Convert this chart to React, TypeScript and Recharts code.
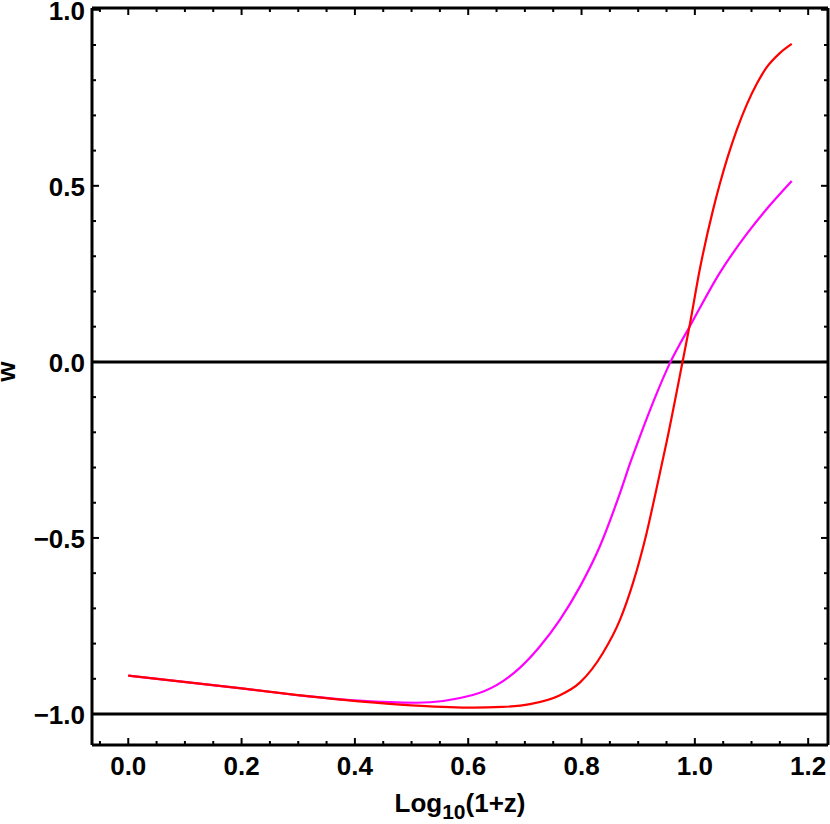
import React from 'react';
import { LineChart, Line, XAxis, YAxis, ReferenceLine, Label } from 'recharts';

// curves: log10(1+z) positions and w values
const redLogZ = [0, 0.204, 0.303, 0.407, 0.508, 0.608, 0.66, 0.709, 0.76, 0.797, 0.838, 0.868, 0.891, 0.915, 0.933, 0.951, 0.979, 0.991, 1.009, 1.032, 1.044, 1.058, 1.074, 1.092, 1.11, 1.127, 1.15, 1.171];
const redW = [-0.891, -0.928, -0.947, -0.964, -0.976, -0.982, -0.98, -0.972, -0.948, -0.911, -0.826, -0.732, -0.627, -0.485, -0.355, -0.221, 0.006, 0.105, 0.265, 0.431, 0.505, 0.582, 0.659, 0.732, 0.792, 0.837, 0.877, 0.903];

const magentaLogZ = [0, 0.204, 0.303, 0.407, 0.508, 0.608, 0.65, 0.691, 0.726, 0.762, 0.797, 0.832, 0.868, 0.887, 0.9, 0.93, 0.957, 0.974, 0.988, 1.044, 1.092, 1.132, 1.171];
const magentaW = [-0.891, -0.928, -0.947, -0.962, -0.968, -0.946, -0.918, -0.869, -0.809, -0.732, -0.639, -0.525, -0.372, -0.282, -0.225, -0.1, 0, 0.052, 0.092, 0.253, 0.364, 0.444, 0.514];

const xTicks = [-0.05, 0, 0.05, 0.1, 0.15, 0.2, 0.25, 0.3, 0.35, 0.4, 0.45, 0.5, 0.55, 0.6, 0.65, 0.7, 0.75, 0.8, 0.85, 0.9, 0.95, 1.0, 1.05, 1.1, 1.15, 1.2];
const xMajor = [0, 0.2, 0.4, 0.6, 0.8, 1.0, 1.2];
const yTicks = [-1.0, -0.9, -0.8, -0.7, -0.6, -0.5, -0.4, -0.3, -0.2, -0.1, 0, 0.1, 0.2, 0.3, 0.4, 0.5, 0.6, 0.7, 0.8, 0.9, 1.0];
const yMajor = [-1.0, -0.5, 0, 0.5, 1.0];
const refLevels = [0, -1];

const redData = redLogZ.map((x, i) => ({ x, w: redW[i] }));
const magentaData = magentaLogZ.map((x, i) => ({ x, w: magentaW[i] }));

const W = 830;
const H = 824;
const MARGIN = { top: 7, right: 1, bottom: 0, left: 0 };
const PLOT_TOP = MARGIN.top + 1;
const PLOT_RIGHT = W - MARGIN.right - 1;
const X_DOMAIN = [-0.064, 1.235];
const Y_DOMAIN = [-1.088, 1.005];
const FONT = '"Liberation Sans", Arial, sans-serif';
const isMajor = (list: number[], v: number) => list.some((t) => Math.abs(t - v) < 1e-6);
const fmt = (v: number) => (v < 0 ? '\u2212' + Math.abs(v).toFixed(1) : v.toFixed(1));

// bottom ticks, mirrored onto the top frame edge
const BottomTick = (props: any) => {
  const { x, y, payload } = props;
  const major = isMajor(xMajor, payload.value);
  const len = major ? 7 : 4;
  return (
    <g>
      <line x1={x} x2={x} y1={y} y2={y - len} stroke="#000" strokeWidth={2} />
      <line x1={x} x2={x} y1={PLOT_TOP} y2={PLOT_TOP + len} stroke="#000" strokeWidth={2} />
      {major && (
        <text x={x} y={y + 30} textAnchor="middle" fontFamily={FONT} fontWeight="bold" fontSize={26} fill="#000">
          {fmt(payload.value)}
        </text>
      )}
    </g>
  );
};

// left ticks, mirrored onto the right frame edge
const LeftTick = (props: any) => {
  const { x, y, payload } = props;
  const major = isMajor(yMajor, payload.value);
  const len = major ? 7 : 4;
  return (
    <g>
      <line x1={x} x2={x + len} y1={y} y2={y} stroke="#000" strokeWidth={2} />
      <line x1={PLOT_RIGHT} x2={PLOT_RIGHT - len} y1={y} y2={y} stroke="#000" strokeWidth={2} />
      {major && (
        <text x={x - 7} y={y + 10} textAnchor="end" fontFamily={FONT} fontWeight="bold" fontSize={26} fill="#000">
          {fmt(payload.value)}
        </text>
      )}
    </g>
  );
};

const XTitle = (props: any) => {
  const vb = props.viewBox || {};
  return (
    <text x={vb.x + vb.width / 2} y={vb.y + 67} textAnchor="middle" fontFamily={FONT} fontWeight="bold" fontSize={26} fill="#000">
      Log
      <tspan fontSize={21} dy={7}>10</tspan>
      <tspan dy={-7}>(1+z)</tspan>
    </text>
  );
};

const YTitle = (props: any) => {
  const vb = props.viewBox || {};
  const cy = vb.y + vb.height / 2 - 5;
  return (
    <text x={15} y={cy} transform={`rotate(-90, 15, ${cy})`} textAnchor="middle" fontFamily={FONT} fontWeight="bold" fontSize={26} fill="#000">
      w
    </text>
  );
};

const frame = { stroke: '#000', strokeWidth: 3 };

export default function App() {
  return (
    <div style={{ position: 'absolute', left: 0, top: 0, width: W, height: H, background: '#fff' }}>
      <LineChart width={W} height={H} margin={MARGIN}>
        <XAxis
          xAxisId="top"
          orientation="top"
          dataKey="x"
          type="number"
          domain={X_DOMAIN}
          allowDataOverflow
          tick={false}
          tickLine={false}
          height={1}
          axisLine={frame}
        />
        <YAxis
          yAxisId="right"
          orientation="right"
          type="number"
          domain={Y_DOMAIN}
          allowDataOverflow
          tick={false}
          tickLine={false}
          width={1}
          axisLine={frame}
        />
        <XAxis
          xAxisId="bottom"
          dataKey="x"
          type="number"
          domain={X_DOMAIN}
          allowDataOverflow
          ticks={xTicks}
          interval={0}
          tickSize={0}
          tickMargin={0}
          tickLine={false}
          tick={<BottomTick />}
          height={79}
          axisLine={frame}
        >
          <Label content={<XTitle />} />
        </XAxis>
        <YAxis
          yAxisId="left"
          type="number"
          domain={Y_DOMAIN}
          allowDataOverflow
          ticks={yTicks}
          interval={0}
          tickSize={0}
          tickMargin={0}
          tickLine={false}
          tick={<LeftTick />}
          width={92}
          axisLine={frame}
        >
          <Label content={<YTitle />} />
        </YAxis>
        {refLevels.map((v) => (
          <ReferenceLine key={v} xAxisId="bottom" yAxisId="left" y={v} stroke="#000" strokeWidth={3} />
        ))}
        <Line
          xAxisId="bottom"
          yAxisId="left"
          data={magentaData}
          type="monotone"
          dataKey="w"
          stroke="#ff00ff"
          strokeWidth={2.2}
          dot={false}
          isAnimationActive={false}
        />
        <Line
          xAxisId="bottom"
          yAxisId="left"
          data={redData}
          type="monotone"
          dataKey="w"
          stroke="#ff0000"
          strokeWidth={2.2}
          dot={false}
          isAnimationActive={false}
        />
      </LineChart>
    </div>
  );
}
